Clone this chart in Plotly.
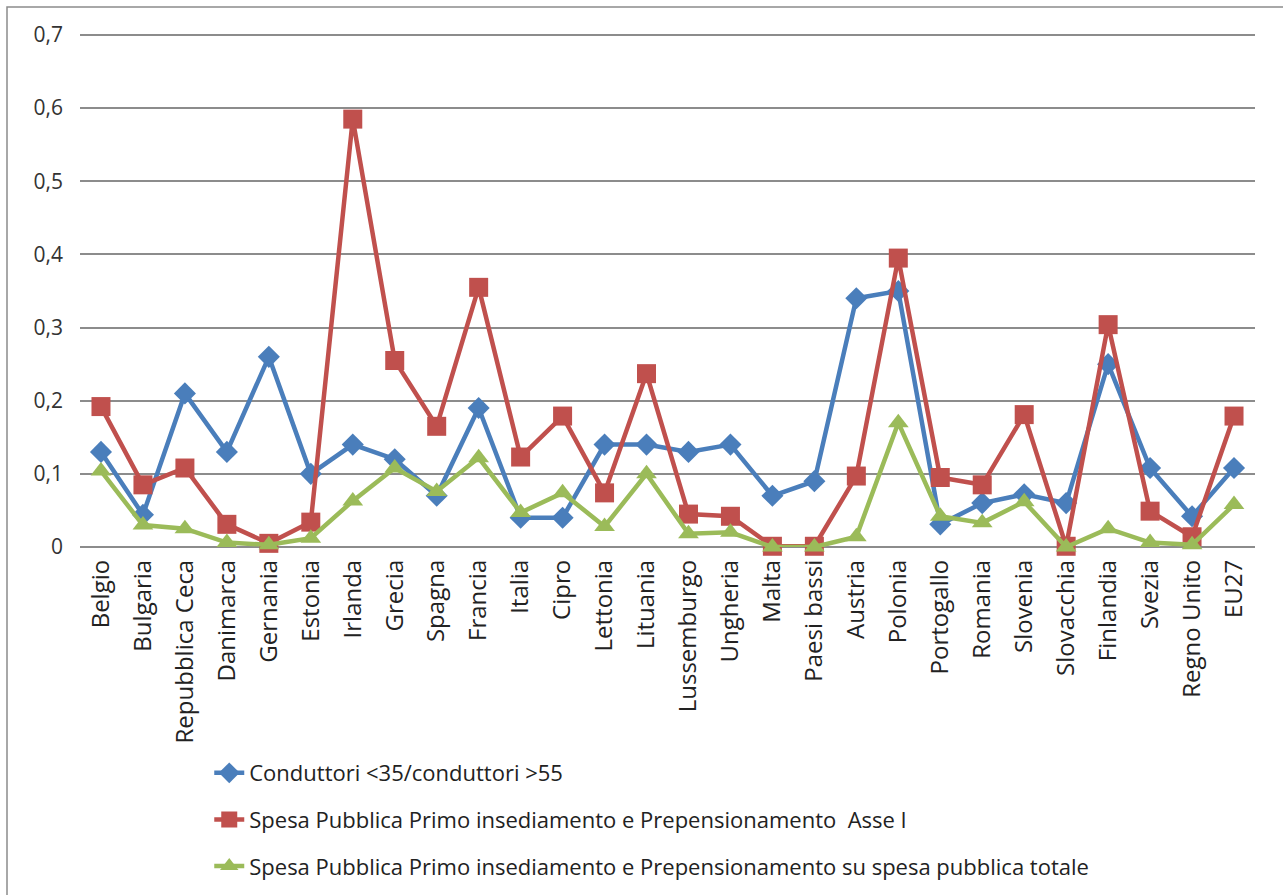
import plotly.graph_objects as go

# Paesi (ordine dell'asse delle categorie)
paesi = ["Belgio", "Bulgaria", "Repubblica Ceca", "Danimarca", "Gernania", "Estonia",
         "Irlanda", "Grecia", "Spagna", "Francia", "Italia", "Cipro", "Lettonia",
         "Lituania", "Lussemburgo", "Ungheria", "Malta", "Paesi bassi", "Austria",
         "Polonia", "Portogallo", "Romania", "Slovenia", "Slovacchia", "Finlandia",
         "Svezia", "Regno Unito", "EU27"]

# Rapporto conduttori giovani / anziani
conduttori = [0.13, 0.044, 0.21, 0.13, 0.26, 0.10, 0.14, 0.12, 0.07, 0.19, 0.04, 0.04,
              0.14, 0.14, 0.13, 0.14, 0.07, 0.09, 0.34, 0.35, 0.031, 0.06, 0.072, 0.06,
              0.25, 0.108, 0.042, 0.108]

# Spesa pubblica primo insediamento e prepensionamento, Asse I
spesa_asse1 = [0.192, 0.085, 0.108, 0.031, 0.005, 0.034, 0.585, 0.255, 0.165, 0.355,
               0.123, 0.179, 0.074, 0.237, 0.045, 0.042, 0.001, 0.001, 0.097, 0.395,
               0.095, 0.085, 0.181, 0.001, 0.304, 0.049, 0.014, 0.179]

# Spesa pubblica primo insediamento e prepensionamento su spesa pubblica totale
spesa_totale = [0.104, 0.03, 0.025, 0.006, 0.003, 0.012, 0.063, 0.108, 0.076, 0.122,
                0.047, 0.074, 0.028, 0.1, 0.018, 0.02, 0.0, 0.0, 0.014, 0.17,
                0.042, 0.033, 0.062, 0.0, 0.025, 0.006, 0.003, 0.058]

y_ticks = [0, 0.1, 0.2, 0.3, 0.4, 0.5, 0.6, 0.7]
y_labels = ["0", "0,1", "0,2", "0,3", "0,4", "0,5", "0,6", "0,7"]

nomi = ["Conduttori <35/conduttori >55",
        "Spesa Pubblica Primo insediamento e Prepensionamento  Asse I",
        "Spesa Pubblica Primo insediamento e Prepensionamento su spesa pubblica totale"]

BLU = "#4A7EBB"
ROSSO = "#C0504D"
VERDE = "#9BBB59"
FONT = "Open Sans, Lato, sans-serif"

# Geometria: asse y da 0 a 0,7 con un piccolo margine sopra per la griglia superiore
TOP_PAD = 0.7 * 7 / 512
Y_MAX = 0.7 + TOP_PAD
PLOT_H = 519  # px, da y=28 a y=547

fig = go.Figure()
serie = [
    (conduttori, nomi[0], BLU, "diamond", 17),
    (spesa_asse1, nomi[1], ROSSO, "square", 19),
    (spesa_totale, nomi[2], VERDE, "triangle-up", 18),
]
for i, (vals, nome, col, simb, dim) in enumerate(serie):
    fig.add_trace(go.Scatter(
        x=paesi, y=vals, name=nome, mode="lines+markers",
        line=dict(color=col, width=4.5),
        marker=dict(symbol=simb, size=dim, color=col),
        legendgroup=str(i),
        cliponaxis=False,
    ))

# Cornice dell'area del grafico (coordinate relative all'area di disegno)
def px_to_paper_y(py):
    return (547 - py) / PLOT_H

fig.add_shape(type="rect", xref="paper", yref="paper",
              x0=(7 - 80) / 1175, x1=(1300 - 80) / 1175,
              y0=px_to_paper_y(910), y1=px_to_paper_y(7),
              line=dict(color="#8C8C8C", width=1.5), fillcolor="rgba(0,0,0,0)",
              layer="below")

fig.update_layout(
    width=1283, height=895,
    margin=dict(l=80, r=28, t=28, b=348, autoexpand=False),
    paper_bgcolor="white", plot_bgcolor="white",
    font=dict(family=FONT, color="#222222"),
    showlegend=True,
    legend=dict(
        x=0.110, y=px_to_paper_y(752), xanchor="left", yanchor="top",
        orientation="v", tracegroupgap=15,
        font=dict(size=22, color="#222222", family=FONT),
        bgcolor="rgba(0,0,0,0)", itemsizing="trace",
    ),
    xaxis=dict(
        type="category", tickangle=-90, tickfont=dict(size=24, color="#222222"),
        showgrid=False, showline=False, ticks="", zeroline=False,
        range=[-0.5, len(paesi) - 0.5], automargin=False,
        ticklabelstandoff=7,
    ),
    yaxis=dict(
        range=[0, Y_MAX], tickvals=y_ticks, ticktext=y_labels,
        tickfont=dict(size=21, color="#333333"),
        showgrid=True, gridcolor="#8C8C8C", gridwidth=1.5,
        zeroline=True, zerolinecolor="#8C8C8C", zerolinewidth=1.5,
        showline=False, ticks="", ticklabelstandoff=16, automargin=False,
    ),
)

fig.write_html("out.html")
